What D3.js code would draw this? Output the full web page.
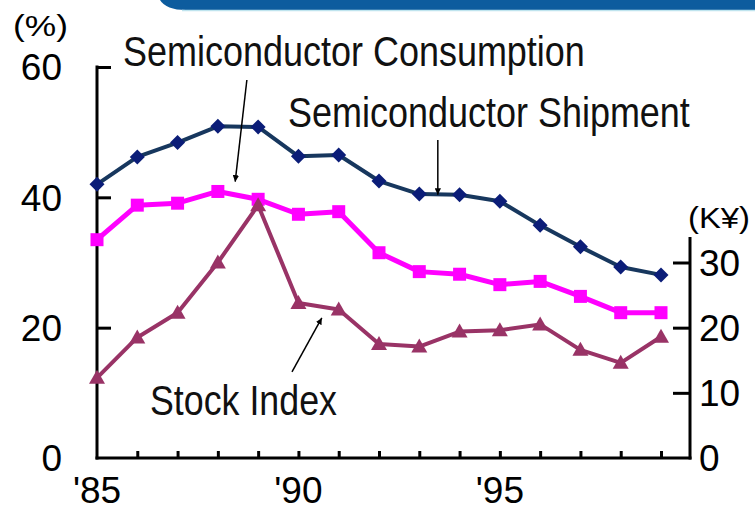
<!DOCTYPE html>
<html>
<head>
<meta charset="utf-8">
<script src="https://cdn.jsdelivr.net/npm/d3@7"></script>
<style>
  html, body { margin: 0; padding: 0; background: #fff; }
  svg { display: block; font-family: "Liberation Sans", Arial, sans-serif; }
</style>
</head>
<body>
<svg id="chart" width="755" height="510"></svg>
<script>
// Data
const years       = [1985, 1986, 1987, 1988, 1989, 1990, 1991, 1992, 1993, 1994, 1995, 1996, 1997, 1998, 1999];
const shipment    = [42.0, 46.2, 48.4, 50.9, 50.8, 46.3, 46.5, 42.5, 40.5, 40.4, 39.4, 35.7, 32.4, 29.3, 28.1];   // %
const consumption = [33.5, 38.8, 39.1, 40.9, 39.7, 37.4, 37.8, 31.5, 28.6, 28.2, 26.6, 27.1, 24.8, 22.3, 22.3];   // %
const stockIndex  = [12.3, 18.5, 22.3, 30.0, 38.8, 23.8, 22.8, 17.5, 17.1, 19.4, 19.6, 20.5, 16.6, 14.6, 18.6];   // K yen

const leftTicks  = [0, 20, 40, 60];
const rightTicks = [0, 10, 20, 30];
const xLabels    = [{year: 1985, text: "'85"}, {year: 1990, text: "'90"}, {year: 1995, text: "'95"}];

let svg = d3.select("#chart");

// squeeze a text horizontally to a given width (the source font is narrow)
let squeeze = function(sel, tx, ty, len) {
  let w = sel.node().getComputedTextLength();
  sel.attr("transform", `translate(${tx},${ty}) scale(${len / w},1)`);
};

// top banner
svg.append("path")
  .attr("d", "M160,0 Q166,10 186,10 L755,10 L755,0 Z")
  .attr("fill", "#0d5c9e");
svg.append("line")
  .attr("x1", 182).attr("x2", 755).attr("y1", 10.5).attr("y2", 10.5)
  .attr("stroke", "#bfe4ee").attr("stroke-width", 1.5);

// Scales
let x  = d3.scaleLinear().domain([1985, 1999]).range([97, 661]);
let yL = d3.scaleLinear().domain([0, 60]).range([458, 67]);
let yR = d3.scaleLinear().domain([0, 30]).range([458, yL(30)]);
let xEnd = 690;

// Axes
let axes = svg.append("g").attr("class", "axes");

let leftAxis = d3.axisRight(yL).tickValues(leftTicks.slice(1)).tickSize(14).tickFormat("");
axes.append("g").attr("transform", "translate(97,0)").call(leftAxis);

let rightAxis = d3.axisLeft(yR).tickValues(rightTicks.slice(1)).tickSize(17).tickFormat("");
axes.append("g").attr("transform", `translate(${xEnd},0)`).call(rightAxis);

let bottomAxis = d3.axisTop(x).tickValues(years.slice(1)).tickSize(7).tickFormat("");
axes.append("g").attr("transform", "translate(0,458)").call(bottomAxis);

axes.selectAll(".domain").remove();
axes.selectAll(".tick line").attr("stroke", "#000").attr("stroke-width", 3);

// axis lines
axes.append("line").attr("x1", 97).attr("x2", 97).attr("y1", yL(60) - 1.5).attr("y2", 459.5)
  .attr("stroke", "#000").attr("stroke-width", 3);
axes.append("line").attr("x1", 95.5).attr("x2", xEnd + 1.5).attr("y1", 458).attr("y2", 458)
  .attr("stroke", "#000").attr("stroke-width", 3);
axes.append("line").attr("x1", xEnd).attr("x2", xEnd).attr("y1", 237).attr("y2", 459.5)
  .attr("stroke", "#000").attr("stroke-width", 3);

// tick labels
svg.append("g").selectAll("text")
  .data(leftTicks).enter()
  .append("text")
  .attr("x", 62).attr("y", (d) => { return yL(d); })
  .attr("dy", "0.36em")
  .attr("text-anchor", "end")
  .attr("font-size", 37)
  .text((d) => { return d; });

svg.append("g").selectAll("text")
  .data(rightTicks).enter()
  .append("text")
  .attr("x", 699).attr("y", (d) => { return yR(d); })
  .attr("dy", "0.36em")
  .attr("font-size", 37)
  .text((d) => { return d; });

svg.append("g").selectAll("text")
  .data(xLabels).enter()
  .append("text")
  .attr("x", (d) => { return x(d.year); }).attr("y", 503)
  .attr("text-anchor", "middle")
  .attr("font-size", 37)
  .text((d) => { return d.text; });

// unit labels
let pct = svg.append("text").attr("font-size", 29).text("(%)");
squeeze(pct, 13, 36, 55);
let yen = svg.append("text").attr("font-size", 30).text("(K¥)");
squeeze(yen, 688, 228, 62);

// Series
let series = [
  {name: "consumption", values: consumption, y: yL, line: "#ff00ff", mark: "#ff00ff", width: 5, shape: "square"},
  {name: "stock",       values: stockIndex,  y: yR, line: "#993366", mark: "#993366", width: 4, shape: "triangle"},
  {name: "shipment",    values: shipment,    y: yL, line: "#17375e", mark: "#0b1d78", width: 4, shape: "diamond"}
];

let shapes = {
  square:   "M-6.5,-6.5 L6.5,-6.5 L6.5,6.5 L-6.5,6.5 Z",
  triangle: "M0,-8 L8,6 L-8,6 Z",
  diamond:  "M0,-7.5 L7.5,0 L0,7.5 L-7.5,0 Z"
};

series.forEach(function(s) {
  let g = svg.append("g").attr("class", s.name);
  let line = d3.line()
    .x((d, i) => { return x(years[i]); })
    .y((d) => { return s.y(d); });

  g.append("path")
    .datum(s.values)
    .attr("d", line)
    .attr("fill", "none")
    .attr("stroke", s.line)
    .attr("stroke-width", s.width)
    .attr("stroke-linejoin", "round");

  g.selectAll("path.mark")
    .data(s.values).enter()
    .append("path")
    .attr("class", "mark")
    .attr("transform", (d, i) => { return `translate(${x(years[i])},${s.y(d)})`; })
    .attr("d", shapes[s.shape])
    .attr("fill", s.mark);
});

// Annotations: arrow tail/tip in data units
let defs = svg.append("defs");
defs.append("marker")
  .attr("id", "arrow")
  .attr("viewBox", "0 0 10 10")
  .attr("refX", 10).attr("refY", 5)
  .attr("markerWidth", 6.5).attr("markerHeight", 6.5)
  .attr("markerUnits", "userSpaceOnUse")
  .attr("orient", "auto")
  .append("path").attr("d", "M0,0 L10,5 L0,10 Z").attr("fill", "#000");

let notes = [
  {text: "Semiconductor Consumption", tx: 123, ty: 66, len: 462, from: [1988.72, 58.0], to: [1988.43, 42.4]},
  {text: "Semiconductor Shipment",    tx: 288, ty: 127, len: 402, from: [1993.46, 48.8], to: [1993.46, 40.4]},
  {text: "Stock Index",               tx: 150, ty: 415, len: 187, from: [1989.84, 13.2], to: [1990.58, 21.5]}
];

let noteG = svg.append("g").attr("class", "notes");
notes.forEach(function(n) {
  noteG.append("line")
    .attr("x1", x(n.from[0])).attr("y1", yL(n.from[1]))
    .attr("x2", x(n.to[0])).attr("y2", yL(n.to[1]))
    .attr("stroke", "#000").attr("stroke-width", 1.5)
    .attr("marker-end", "url(#arrow)");
  let t = noteG.append("text")
    .attr("font-size", 42)
    .attr("fill", "#111")
    .text(n.text);
  squeeze(t, n.tx, n.ty, n.len);
});
</script>
</body>
</html>
